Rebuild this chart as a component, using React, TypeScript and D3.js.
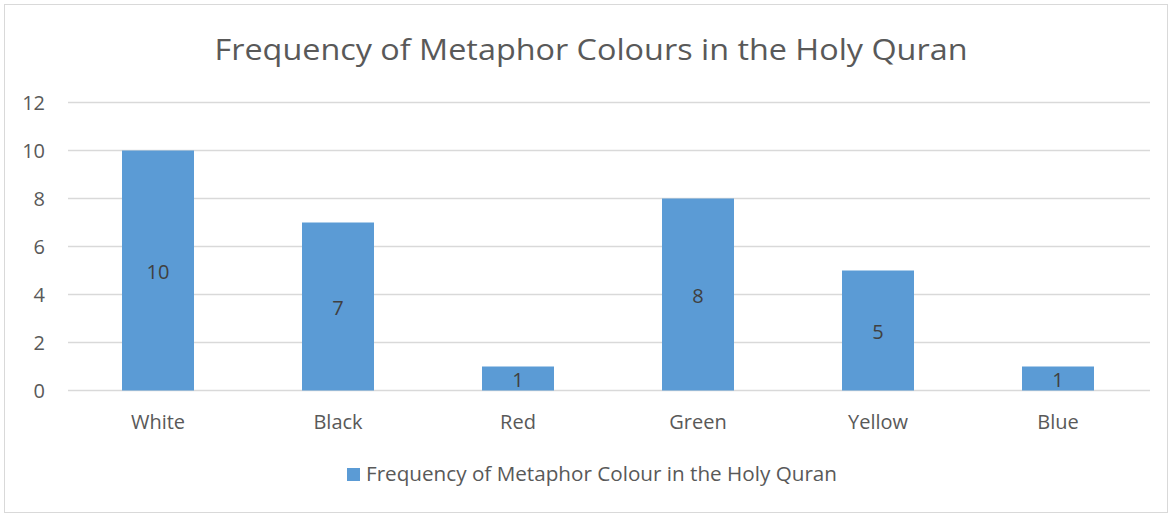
import * as d3 from 'd3';
import React, { useEffect } from 'react';

const categories = ['White', 'Black', 'Red', 'Green', 'Yellow', 'Blue'];
const frequencies = [10, 7, 1, 8, 5, 1];
const yTicks = [0, 2, 4, 6, 8, 10, 12];
const chartTitle = 'Frequency of Metaphor Colours in the Holy Quran';
const seriesName = 'Frequency of Metaphor Colour in the Holy Quran';

export default function App() {
  const ref = React.useRef<SVGSVGElement>(null);

  useEffect(() => {
    if (!ref.current) return;
    const width = 1172;
    const height = 515;
    const font = "'Open Sans', 'Noto Sans', sans-serif";
    const svg = d3.select(ref.current);
    svg.selectAll('*').remove();

    const x = d3.scaleBand().domain(categories).range([68, 1148]).paddingInner(0.6).paddingOuter(0.3);
    const y = d3.scaleLinear().domain([0, 12]).range([390.5, 102.5]);

    // outer frame
    svg
      .append('rect')
      .attr('x', 4.5)
      .attr('y', 4.5)
      .attr('width', 1163)
      .attr('height', 508)
      .attr('fill', '#fff')
      .attr('stroke', '#d9d9d9');

    svg
      .append('text')
      .attr('x', 591)
      .attr('y', 60)
      .attr('text-anchor', 'middle')
      .attr('font-family', font)
      .attr('font-size', 30)
      .attr('fill', '#595959')
      .attr('textLength', 753)
      .attr('lengthAdjust', 'spacingAndGlyphs')
      .text(chartTitle);

    // gridlines
    svg
      .append('g')
      .selectAll('line')
      .data(yTicks)
      .enter()
      .append('line')
      .attr('x1', 68)
      .attr('x2', 1150)
      .attr('y1', d => y(d))
      .attr('y2', d => y(d))
      .attr('stroke', '#d9d9d9')
      .attr('stroke-width', 1.5);

    svg
      .append('g')
      .selectAll('text')
      .data(yTicks)
      .enter()
      .append('text')
      .attr('x', 45)
      .attr('y', d => y(d))
      .attr('dy', '0.36em')
      .attr('text-anchor', 'end')
      .attr('font-family', font)
      .attr('font-size', 20)
      .attr('fill', '#595959')
      .text(d => d);

    const bars = svg
      .append('g')
      .selectAll('g')
      .data(categories.map((c, i) => ({ c, v: frequencies[i] })))
      .enter()
      .append('g');

    bars
      .append('rect')
      .attr('x', d => x(d.c) as number)
      .attr('width', x.bandwidth())
      .attr('y', d => y(d.v))
      .attr('height', d => y(0) - y(d.v))
      .attr('fill', '#5b9bd5');

    bars
      .append('text')
      .attr('x', d => (x(d.c) as number) + x.bandwidth() / 2)
      .attr('y', d => (y(d.v) + y(0)) / 2)
      .attr('dy', '0.4em')
      .attr('text-anchor', 'middle')
      .attr('font-family', font)
      .attr('font-size', 20)
      .attr('fill', '#404040')
      .text(d => d.v);

    bars
      .append('text')
      .attr('x', d => (x(d.c) as number) + x.bandwidth() / 2)
      .attr('y', 429)
      .attr('text-anchor', 'middle')
      .attr('font-family', font)
      .attr('font-size', 20)
      .attr('fill', '#595959')
      .text(d => d.c);

    // legend
    svg
      .append('rect')
      .attr('x', 347)
      .attr('y', 468)
      .attr('width', 13)
      .attr('height', 13)
      .attr('fill', '#5b9bd5');
    svg
      .append('text')
      .attr('x', 366)
      .attr('y', 481)
      .attr('font-family', font)
      .attr('font-size', 20)
      .attr('fill', '#595959')
      .attr('textLength', 471)
      .attr('lengthAdjust', 'spacingAndGlyphs')
      .text(seriesName);

    svg.attr('width', width).attr('height', height);
  }, []);

  return <svg ref={ref} style={{ position: 'absolute', left: 0, top: 0 }} />;
}
